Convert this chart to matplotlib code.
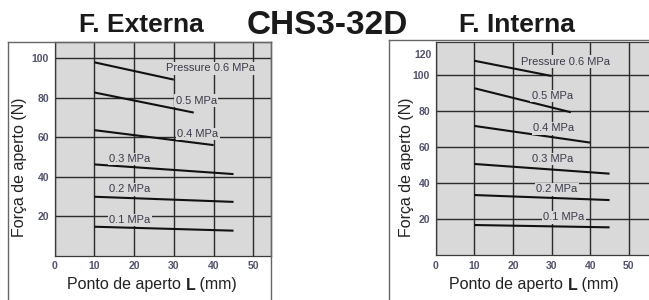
import matplotlib
matplotlib.use("Agg")
import matplotlib.pyplot as plt
from matplotlib.lines import Line2D
from matplotlib.transforms import blended_transform_factory
from matplotlib.offsetbox import TextArea, HPacker, AnchoredOffsetbox

plt.rcParams['font.family'] = ['Liberation Sans', 'DejaVu Sans']

# ---------------- data ----------------
series_labels = ["Pressure 0.6 MPa", "0.5 MPa", "0.4 MPa", "0.3 MPa", "0.2 MPa", "0.1 MPa"]

ext_x = [[10, 30], [10, 35], [10, 40], [10, 45], [10, 45], [10, 45]]
ext_y = [[98.0, 89.2], [82.7, 72.5], [63.6, 56.0], [46.2, 41.3], [29.8, 27.2], [14.6, 12.6]]

int_x = [[10, 30], [10, 35], [10, 40], [10, 45], [10, 45], [10, 45]]
int_y = [[108.2, 99.7], [92.9, 79.5], [71.9, 62.6], [50.7, 45.3], [33.4, 30.6], [16.7, 15.4]]

xticks = [0, 10, 20, 30, 40, 50]
xtick_labels = ["0", "10", "20", "30", "40", "50"]
ext_yticks = [20, 40, 60, 80, 100]
ext_ytick_labels = ["20", "40", "60", "80", "100"]
int_yticks = [20, 40, 60, 80, 100]
int_ytick_labels = ["20", "40", "60", "80", "100"]
int_extra_label = "120"

title_left = "F. Externa"
title_mid = "CHS3-32D"
title_right = "F. Interna"
ylabel = "Força de aperto (N)"

# label placements (text positions only)
ext_label_pos = [(39.3, 95.0), (35.6, 78.6), (36.0, 61.7), (19.0, 49.0), (19.0, 33.5), (19.0, 18.0)]
int_label_pos = [(33.6, 107.7), (30.2, 88.6), (30.6, 70.6), (30.4, 53.5), (31.4, 36.6), (33.1, 21.0)]

# ---------------- layout ----------------
W, H = 649, 300
fig = plt.figure(figsize=(W / 100, H / 100), dpi=100)
fig.patch.set_facecolor("white")

def px_rect(x0, y0, x1, y1):
    return [x0 / W, 1 - y1 / H, (x1 - x0) / W, (y1 - y0) / H]

GRAY = "#d9d9d9"
GRID = "#2b2b2b"
TICKC = "#50536a"
TICKFS = 7.5

def make_axes(rect, xlim, ylim, yticks, ylabels, xs, ys, label_pos):
    ax = fig.add_axes(rect)
    ax.set_facecolor(GRAY)
    ax.set_xlim(*xlim)
    ax.set_ylim(*ylim)
    ax.set_xticks(xticks)
    ax.set_xticklabels(xtick_labels)
    ax.set_yticks(yticks)
    ax.set_yticklabels(ylabels)
    ax.tick_params(length=0, labelsize=TICKFS, colors=TICKC, pad=4)
    for lab in ax.get_xticklabels() + ax.get_yticklabels():
        lab.set_fontweight("bold")
    ax.grid(True, color=GRID, linewidth=1.0)
    ax.set_axisbelow(True)
    for sp in ax.spines.values():
        sp.set_color("#3a3a3a")
        sp.set_linewidth(0.9)
    for x, y in zip(xs, ys):
        ax.plot(x, y, color="#111111", linewidth=1.5, solid_capstyle="butt", zorder=3)
    for txt, (lx, ly) in zip(series_labels, label_pos):
        ax.text(lx, ly, txt, ha="center", va="center", fontsize=8, color="#3a3a4a",
                zorder=4, bbox=dict(facecolor=GRAY, edgecolor="none", pad=1.0))
    return ax

ax1 = make_axes(px_rect(54.5, 42, 270.5, 255.5), (0, 54.3), (0, 108.3),
                ext_yticks, ext_ytick_labels, ext_x, ext_y, ext_label_pos)
ax2 = make_axes(px_rect(435.6, 41.7, 649, 255), (0, 55.2), (0, 118.8),
                int_yticks, int_ytick_labels, int_x, int_y, int_label_pos)
ax2.spines["right"].set_visible(False)

# extra "120" label on interna axis (drawn where it sits in the original)
tr = blended_transform_factory(ax2.transAxes, ax2.transData)
ax2.text(-0.019, 111.5, int_extra_label, transform=tr, ha="right", va="center",
         fontsize=TICKFS, color=TICKC, fontweight="bold")

# outer frames
def vline(xp, y0, y1):
    fig.add_artist(Line2D([xp / W, xp / W], [1 - y0 / H, 1 - y1 / H], color="#666666", linewidth=1.0))

def hline(x0, x1, yp):
    fig.add_artist(Line2D([x0 / W, x1 / W], [1 - yp / H, 1 - yp / H], color="#666666", linewidth=1.0))

vline(7.5, 42, 300)
vline(270.5, 42, 300)
hline(7.5, 270.5, 42)
vline(389, 40, 300)
hline(389, 649, 40)

# axis labels
fig.text(20 / W, 1 - 167 / H, ylabel, rotation=90, ha="center", va="center", fontsize=11.5, color="#222222")
fig.text(407 / W, 1 - 167 / H, ylabel, rotation=90, ha="center", va="center", fontsize=11.5, color="#222222")

for cx in (152, 534):
    parts = [TextArea("Ponto de aperto ", textprops=dict(fontsize=11.5, color="#222222")),
             TextArea("L", textprops=dict(fontsize=11.5, color="#222222", fontweight="bold")),
             TextArea(" (mm)", textprops=dict(fontsize=11.5, color="#222222"))]
    box = HPacker(children=parts, align="baseline", pad=0, sep=0)
    anch = AnchoredOffsetbox(loc="center", child=box, frameon=False, pad=0, borderpad=0,
                             bbox_to_anchor=(cx / W, 1 - 285 / H), bbox_transform=fig.transFigure)
    fig.add_artist(anch)

# titles
fig.text(141 / W, 1 - 32.5 / H, title_left, ha="center", va="baseline", fontsize=19, fontweight="bold", color="#1a1a1a")
fig.text(327.5 / W, 1 - 33.5 / H, title_mid, ha="center", va="baseline", fontsize=24, fontweight="bold", color="#1a1a1a")
fig.text(516.5 / W, 1 - 32.5 / H, title_right, ha="center", va="baseline", fontsize=19, fontweight="bold", color="#1a1a1a")

fig.savefig("out.png", dpi=100)
